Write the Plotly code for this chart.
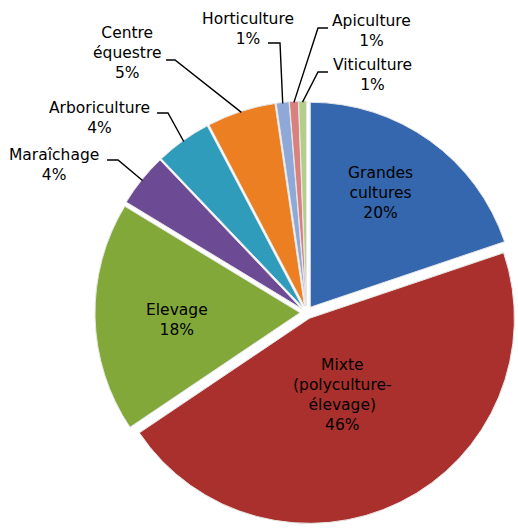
import math
import plotly.graph_objects as go

W, H = 518, 528

# ---- data ----
categories = ["Grandes cultures", "Mixte (polyculture-élevage)", "Elevage", "Maraîchage",
              "Arboriculture", "Centre équestre", "Horticulture", "Apiculture", "Viticulture"]
display_labels = ["Grandes<br>cultures", "Mixte<br>(polyculture-<br>élevage)", "Elevage", "Maraîchage",
                  "Arboriculture", "Centre<br>équestre", "Horticulture", "Apiculture", "Viticulture"]
values = [19.8, 45.7, 18.1, 4.2, 4.4, 5.4, 1.0, 0.7, 0.6]

# ---- style ----
colors = ["#3467AE", "#AA302D", "#83A83A", "#6C4B94", "#2E9CBA", "#EB7F22",
          "#8EA9D8", "#D8817E", "#B4CE88"]
FONT = "Verdana, DejaVu Sans, sans-serif"
FS = 15.5
PULL = 0.0316
dom_x = [95 / W, 1.0]
dom_y = [0.0056, 0.8106]

# label text-centre pixel positions (layout)
label_pos = {
    "Grandes cultures": (380, 193),
    "Mixte (polyculture-élevage)": (342, 395),
    "Elevage": (177, 320),
    "Maraîchage": (54, 165),
    "Arboriculture": (99, 118),
    "Centre équestre": (127, 53),
    "Horticulture": (248, 29),
    "Apiculture": (371, 31),
    "Viticulture": (372, 75),
}
# leader-line horizontal stubs: (x_far, x_near, y) in pixels
stubs = {
    "Maraîchage": (107, 118, 160),
    "Arboriculture": (157, 168, 113),
    "Centre équestre": (166, 175, 60),
    "Horticulture": (268, 280, 43),
    "Apiculture": (328, 318, 28),
    "Viticulture": (328, 318, 72),
}

def px2paper(x, y):
    return x / W, 1 - y / H

fig = go.Figure(go.Pie(
    labels=categories,
    values=values,
    sort=False,
    direction="clockwise",
    rotation=0,
    pull=[PULL] * len(values),
    marker=dict(colors=colors, line=dict(color="#e6e6e6", width=1)),
    textinfo="none",
    hoverinfo="label+percent",
    domain=dict(x=dom_x, y=dom_y),
    showlegend=False,
))

# geometry derived from the pie domain
cx = (dom_x[0] + dom_x[1]) / 2 * W
cy = (1 - (dom_y[0] + dom_y[1]) / 2) * H
r = min((dom_x[1] - dom_x[0]) * W, (dom_y[1] - dom_y[0]) * H) / 2 / (1 + PULL)
total = sum(values)

annotations = []
shapes = []
cum = 0.0
for cat, disp, v in zip(categories, display_labels, values):
    mid = (cum + v / 2) / total * 2 * math.pi
    cum += v
    pct = round(v / total * 100)
    lx, ly = label_pos[cat]
    ax_, ay_ = px2paper(lx, ly)
    annotations.append(dict(
        x=ax_, y=ay_, xref="paper", yref="paper",
        text=f"{disp}<br>{pct}%", showarrow=False,
        xanchor="center", yanchor="middle", align="center",
        font=dict(family=FONT, size=FS, color="#000000"),
    ))
    if cat in stubs:
        xf, xn, sy = stubs[cat]
        rr = r * (1 + PULL) - 1
        ex = cx + rr * math.sin(mid)
        ey = cy - rr * math.cos(mid)
        p1 = px2paper(xf, sy)
        p2 = px2paper(xn, sy)
        p3 = px2paper(ex, ey)
        shapes.append(dict(
            type="path", xref="paper", yref="paper",
            path=f"M {p1[0]} {p1[1]} L {p2[0]} {p2[1]} L {p3[0]} {p3[1]}",
            line=dict(color="#000000", width=1.4),
        ))

fig.update_layout(
    width=W, height=H,
    margin=dict(l=0, r=0, t=0, b=0),
    paper_bgcolor="white",
    plot_bgcolor="white",
    annotations=annotations,
    shapes=shapes,
)

fig.write_html("out.html", config={"displayModeBar": False},
               post_script="document.body.style.margin='0px';")
